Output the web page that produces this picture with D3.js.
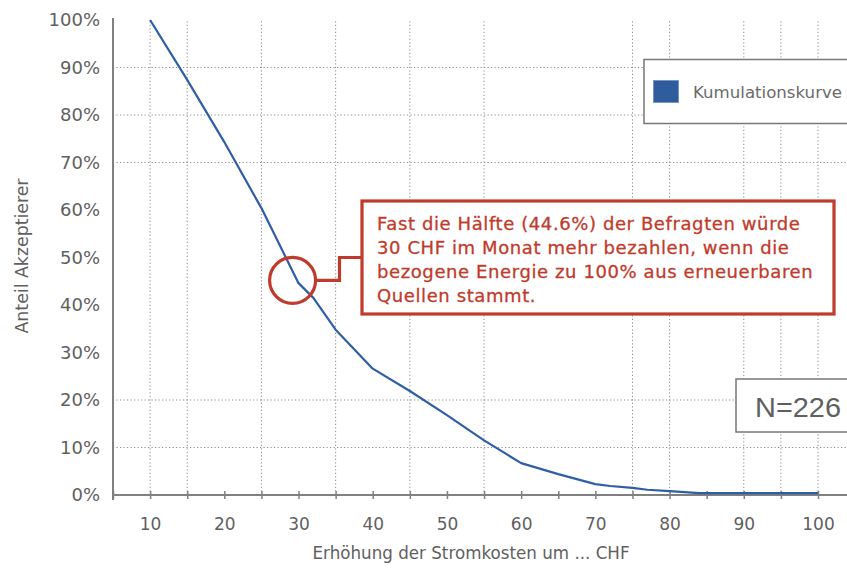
<!DOCTYPE html>
<html>
<head>
<meta charset="utf-8">
<script src="https://cdn.jsdelivr.net/npm/d3@7"></script>
<style>
  body { margin: 0; background: #fff; }
  svg { display: block; }
</style>
</head>
<body>
<svg id="chart"></svg>
<script>
// Kumulationskurve: Anteil der Befragten, die eine Erhöhung um x CHF akzeptieren
const chf = [10, 15, 20, 25, 30, 32, 35, 40, 45, 50, 55, 60, 65, 70, 72, 75, 77, 80, 84, 90, 100];
const shares = [1.0, 0.874, 0.743, 0.604, 0.446, 0.415, 0.348, 0.266, 0.219, 0.168, 0.115, 0.067, 0.044, 0.023, 0.019, 0.015, 0.011, 0.008, 0.004, 0.004, 0.004];

const xTicks = [5, 10, 15, 20, 25, 30, 35, 40, 45, 50, 55, 60, 65, 70, 75, 80, 85, 90, 95, 100];
const yTicks = [0, 0.1, 0.2, 0.3, 0.4, 0.5, 0.6, 0.7, 0.8, 0.9, 1.0];
// the original only shows some of its dotted grid lines
const xGrid = [10, 15, 25, 35, 45, 55, 75, 80, 90, 95, 100];
const yGrid = [0.1, 0.2, 0.7, 0.8, 0.9];

const seriesName = "Kumulationskurve";
const sampleLabel = "N=226";
const xTitle = "Erhöhung der Stromkosten um ... CHF";
const yTitle = "Anteil Akzeptierer";
const note = [
  "Fast die Hälfte (44.6%) der Befragten würde",
  "30 CHF im Monat mehr bezahlen, wenn die",
  "bezogene Energie zu 100% aus erneuerbaren",
  "Quellen stammt."
];

const width = 847, height = 570;
const blue = "#2f5ea6";
const red = "#bf3b2b";
const axisGrey = "#808080";
const textGrey = "#5f5f5f";

const svg = d3.select("#chart")
  .attr("width", width)
  .attr("height", height)
  .style("font-family", "'DejaVu Sans', Verdana, sans-serif");

const x = d3.scaleLinear().domain([5, 100]).range([113, 818]);
const y = d3.scaleLinear().domain([0, 1]).range([495, 20]);
const right = width;

// grid
svg.append("g")
  .selectAll("line")
  .data(yGrid)
  .join("line")
  .attr("x1", x(5)).attr("x2", right)
  .attr("y1", d => y(d)).attr("y2", d => y(d))
  .attr("stroke", "#8c8c8c")
  .attr("stroke-width", 1)
  .attr("stroke-dasharray", "1.2,2.3");

svg.append("g")
  .selectAll("line")
  .data(xGrid)
  .join("line")
  .attr("x1", d => x(d)).attr("x2", d => x(d))
  .attr("y1", y(0)).attr("y2", y(1) - 1)
  .attr("stroke", "#8c8c8c")
  .attr("stroke-width", 1)
  .attr("stroke-dasharray", "1.2,2.3");

// x axis
const xAxis = svg.append("g")
  .attr("transform", `translate(0,${y(0)})`)
  .call(d3.axisBottom(x)
    .tickValues(xTicks)
    .tickSize(8)
    .tickFormat(d => d % 10 === 0 ? d : ""));
xAxis.select(".domain").remove();
xAxis.selectAll(".tick line")
  .attr("y1", -4).attr("y2", 4)
  .attr("stroke", axisGrey).attr("stroke-width", 1.5);
xAxis.selectAll(".tick text")
  .attr("y", 23)
  .attr("fill", textGrey)
  .style("font-size", "17px")
  .style("font-family", "'DejaVu Sans', Verdana, sans-serif");
xAxis.append("line")
  .attr("x1", x(5)).attr("x2", right)
  .attr("stroke", axisGrey).attr("stroke-width", 2);

// y axis
const yAxis = svg.append("g")
  .attr("transform", `translate(${x(5)},0)`)
  .call(d3.axisLeft(y)
    .tickValues(yTicks)
    .tickSize(0)
    .tickPadding(13)
    .tickFormat(d3.format(".0%")));
yAxis.select(".domain").remove();
yAxis.selectAll(".tick text")
  .attr("fill", textGrey)
  .style("font-size", "18px")
  .style("font-family", "'DejaVu Sans', Verdana, sans-serif");
yAxis.append("line")
  .attr("y1", y(1) - 2).attr("y2", y(0) + 5)
  .attr("stroke", axisGrey).attr("stroke-width", 2);

// axis titles
svg.append("text")
  .attr("x", 471).attr("y", 559)
  .attr("text-anchor", "middle")
  .attr("fill", textGrey)
  .attr("textLength", 317)
  .attr("lengthAdjust", "spacingAndGlyphs")
  .style("font-size", "17px")
  .text(xTitle);

svg.append("text")
  .attr("transform", "translate(28,256) rotate(-90)")
  .attr("text-anchor", "middle")
  .attr("fill", textGrey)
  .attr("textLength", 155)
  .attr("lengthAdjust", "spacingAndGlyphs")
  .style("font-size", "17px")
  .text(yTitle);

// curve
const line = d3.line()
  .x((d, i) => x(chf[i]))
  .y(d => y(d));

svg.append("path")
  .datum(shares)
  .attr("d", line)
  .attr("fill", "none")
  .attr("stroke", blue)
  .attr("stroke-width", 2.2)
  .attr("stroke-linejoin", "round");

// legend
const legend = svg.append("g");
legend.append("rect")
  .attr("x", 644).attr("y", 59.5)
  .attr("width", 220).attr("height", 64)
  .attr("fill", "#fff")
  .attr("stroke", "#777").attr("stroke-width", 1.5);
legend.append("rect")
  .attr("x", 653.5).attr("y", 80.5)
  .attr("width", 25).attr("height", 22)
  .attr("fill", "#2e5c9c")
  .attr("stroke", "#6f8fc0").attr("stroke-width", 0.8);
legend.append("text")
  .attr("x", 693).attr("y", 98)
  .attr("fill", "#6a6a6a")
  .attr("textLength", 149)
  .attr("lengthAdjust", "spacingAndGlyphs")
  .style("font-size", "16.5px")
  .text(seriesName);

// N box
const nBox = svg.append("g");
nBox.append("rect")
  .attr("x", 736).attr("y", 379)
  .attr("width", 130).attr("height", 53)
  .attr("fill", "#fff")
  .attr("stroke", "#777").attr("stroke-width", 1.5);
nBox.append("text")
  .attr("x", 755).attr("y", 417)
  .attr("fill", textGrey)
  .attr("textLength", 86)
  .attr("lengthAdjust", "spacingAndGlyphs")
  .style("font-family", "'Liberation Sans', Arial, sans-serif")
  .style("font-size", "28px")
  .text(sampleLabel);

// annotation: circle at 30 CHF and callout box
const cx = x(29.2), cy = y(0.452);
const ann = svg.append("g")
  .attr("fill", "none")
  .attr("stroke", red)
  .attr("stroke-width", 3.2);
ann.append("circle")
  .attr("cx", cx).attr("cy", cy).attr("r", 23);
ann.append("path")
  .attr("d", `M${cx + 23},${cy} H339.5 V257.5 H362`);
ann.append("rect")
  .attr("x", 362).attr("y", 201)
  .attr("width", 472).attr("height", 113)
  .attr("fill", "#fff");

svg.append("g")
  .selectAll("text")
  .data(note)
  .join("text")
  .attr("x", 377)
  .attr("y", (d, i) => 230 + i * 24)
  .attr("fill", red)
  .attr("stroke", red)
  .attr("stroke-width", 0.3)
  .style("font-size", "18px")
  .style("letter-spacing", "0.6px")
  .text(d => d);
</script>
</body>
</html>
